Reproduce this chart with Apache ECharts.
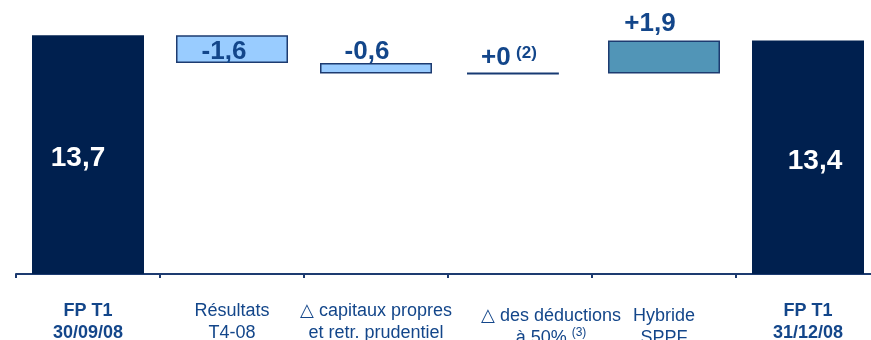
<!DOCTYPE html>
<html>
<head>
<meta charset="utf-8">
<script src="https://cdn.jsdelivr.net/npm/echarts@6/dist/echarts.min.js"></script>
<style>
  html, body { margin: 0; padding: 0; background: #ffffff; }
  #chart { width: 871px; height: 340px; }
</style>
</head>
<body>
<div id="chart"></div>
<script>
// Bridge of regulatory capital (T1), in billions
const categories = [
  'FP T1\n30/09/08',
  'Résultats\nT4-08',
  '△ capitaux propres\net retr. prudentiel',
  '△ des déductions\nà 50% (3)',
  'Hybride\nSPPF',
  'FP T1\n31/12/08'
];
const startValue = 13.7;
const deltas = [-1.6, -0.6, 0, 1.9];
const endValue = 13.4;
const valueNotes = ['', '', '', '(2)', '', ''];

// Colours
const NAVY = '#00204f';
const LIGHT = '#99ccff';
const TEAL = '#5195b7';
const EDGE = '#1d3b70';
const TEXT = '#13468a';
const FONT = 'Liberation Sans, Arial, DejaVu Sans, sans-serif';

// Waterfall geometry: invisible base + visible step
const baseVals = [0];
const stepVals = [startValue];
let level = startValue;
deltas.forEach(d => {
  const next = Math.round((level + d) * 10) / 10;
  baseVals.push(Math.min(level, next));
  stepVals.push(Math.abs(d));
  level = next;
});
baseVals.push(0);
stepVals.push(endValue);

const signed = [startValue, ...deltas, endValue];
const fmtNum = (v, withSign) => {
  let s = (Math.abs(v) % 1 === 0 ? Math.abs(v).toFixed(0) : Math.abs(v).toFixed(1)).replace('.', ',');
  if (withSign) s = (v < 0 ? '-' : '+') + s;
  return s;
};

// Per-bar label placement
const labelLayout = [
  { position: 'inside', offset: [-10, 4], big: true },
  { position: 'inside', offset: [-8, 3] },
  { position: 'top', offset: [-9, 2] },
  { position: 'top', offset: [-11, -3] },
  { position: 'top', offset: [-14, -4] },
  { position: 'inside', offset: [7, 4], big: true }
];
const fills = [NAVY, LIGHT, LIGHT, 'transparent', TEAL, NAVY];
const edges = [0, 1.5, 1.5, 0, 1.5, 0];

const stepData = stepVals.map((v, i) => {
  const lay = labelLayout[i];
  const isTotal = i === 0 || i === stepVals.length - 1;
  let txt = isTotal ? fmtNum(signed[i], false) : fmtNum(signed[i], true);
  txt = (lay.big ? '{big|' : '{val|') + txt + '}';
  if (valueNotes[i]) txt += ' {sup|' + valueNotes[i] + '}';
  return {
    value: v,
    itemStyle: { color: fills[i], borderColor: EDGE, borderWidth: edges[i] },
    label: {
      show: true,
      position: lay.position,
      offset: lay.offset,
      distance: 0,
      formatter: txt
    }
  };
});

// Level of the flat (zero-change) step drawn as a rule
const flatSteps = [];
{
  let lv = startValue;
  deltas.forEach((d, k) => {
    const next = Math.round((lv + d) * 10) / 10;
    if (d === 0) flatSteps.push([k + 1, next]);
    lv = next;
  });
}

function fmtCat(value, idx) {
  const style = (idx === 0 || idx === categories.length - 1) ? 'b' : (idx === 3 ? 's' : 'n');
  return value.split('\n').map(line => {
    const parts = line.split(/(\(\d\))/).filter(Boolean);
    return parts.map((p, j) => {
      if (/^\(\d\)$/.test(p)) return '{csup|' + p + '}';
      return '{' + (j === 0 ? style : 'n') + '|' + p + '}';
    }).join('');
  }).join('\n');
}

const catData = categories.map((c, i) => {
  if (i === 3 || i === 4) return { value: c, textStyle: { padding: [5, 0, 0, 0] } };
  return c;
});

const chart = echarts.init(document.getElementById('chart'), null, { renderer: 'canvas' });
chart.setOption({
  animation: false,
  backgroundColor: '#ffffff',
  textStyle: { fontFamily: FONT },
  grid: { left: 16, width: 864, top: 30, bottom: 66, containLabel: false, outerBoundsMode: 'none' },
  xAxis: {
    type: 'category',
    data: catData,
    boundaryGap: true,
    axisLine: { lineStyle: { color: EDGE, width: 2 } },
    axisTick: { show: true, length: 4, lineStyle: { color: EDGE, width: 2 } },
    axisLabel: {
      interval: 0,
      hideOverlap: false,
      margin: 26,
      color: TEXT,
      formatter: fmtCat,
      rich: {
        b: { fontSize: 18, fontWeight: 'bold', color: TEXT, lineHeight: 22, fontFamily: FONT },
        n: { fontSize: 18, color: TEXT, lineHeight: 22, fontFamily: FONT },
        s: { fontSize: 18, color: TEXT, lineHeight: 22, padding: [0, 0, 0, 62], fontFamily: FONT },
        csup: { fontSize: 12, color: TEXT, lineHeight: 22, verticalAlign: 'top', fontFamily: FONT }
      }
    }
  },
  yAxis: { type: 'value', min: 0, max: 14, show: false, splitLine: { show: false } },
  series: [
    {
      name: 'base',
      type: 'bar',
      stack: 'w',
      silent: true,
      barWidth: 112,
      itemStyle: { color: 'transparent' },
      data: baseVals
    },
    {
      name: 'step',
      type: 'bar',
      stack: 'w',
      barWidth: 112,
      data: stepData,
      label: {
        rich: {
          big: { fontSize: 28, fontWeight: 'bold', color: '#ffffff', fontFamily: FONT },
          val: { fontSize: 26, fontWeight: 'bold', color: TEXT, fontFamily: FONT },
          sup: { fontSize: 17, fontWeight: 'bold', color: TEXT, verticalAlign: 'top', padding: [0, 0, 0, 2], fontFamily: FONT }
        }
      }
    },
    {
      name: 'flat',
      type: 'custom',
      silent: true,
      data: flatSteps,
      renderItem: (params, api) => {
        const p = api.coord([api.value(0), api.value(1)]);
        const w = api.size([1, 0])[0];
        return {
          type: 'line',
          shape: { x1: p[0] - w * 0.368, y1: p[1], x2: p[0] + w * 0.27, y2: p[1] },
          style: { stroke: '#173a73', lineWidth: 2 }
        };
      }
    }
  ]
});
</script>
</body>
</html>
